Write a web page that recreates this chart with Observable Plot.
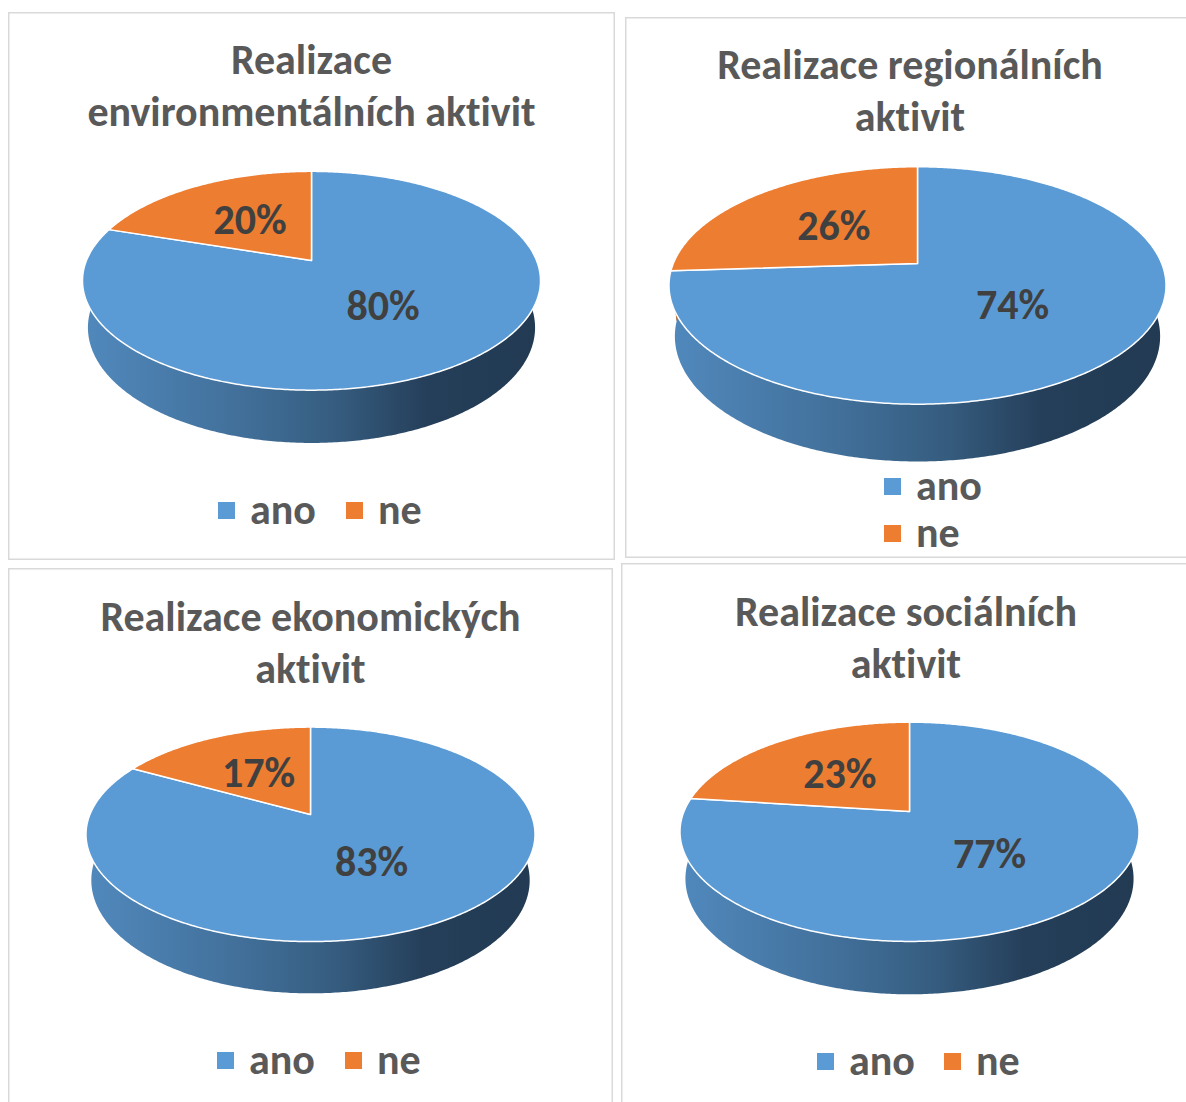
<!DOCTYPE html>
<html>
<head>
<meta charset="utf-8">
<script src="https://cdn.jsdelivr.net/npm/d3@7"></script>
<script src="https://cdn.jsdelivr.net/npm/@observablehq/plot@0.6"></script>
<style>
  html, body { margin: 0; padding: 0; background: #fff; }
  body { width: 1186px; height: 1102px; position: relative; overflow: hidden;
         font-family: Carlito, Lato, "Open Sans", sans-serif; font-variant-ligatures: none; }
  .panel { position: absolute; background: #fff; box-shadow: inset 0 0 0 1.5px #d9d9d9; }
  .panel svg { position: absolute; left: 0; top: 0; }
  .panel svg text { font-variant-ligatures: none; }
  .title { position: absolute; left: 0; width: 100%; text-align: center; color: #595959;
           font-weight: bold; font-size: 42px; line-height: 52px; white-space: nowrap; }
  .leg { position: absolute; display: flex; align-items: center; color: #595959;
         font-weight: bold; font-size: 42px; line-height: 36px; height: 36px; white-space: nowrap; }
  .sw { width: 17px; height: 17px; margin-right: 15px; }
</style>
</head>
<body>
<script>
// ---------------- data ----------------
const titles = [
  ["Realizace", "environmentálních aktivit"],
  ["Realizace regionálních", "aktivit"],
  ["Realizace ekonomických", "aktivit"],
  ["Realizace sociálních", "aktivit"]
];
const categories = ["ano", "ne"];
const anoValues = [80, 74, 83, 77];
const neValues  = [20, 26, 17, 23];

// ---------------- style / layout ----------------
const colors = ["#5b9bd5", "#ed7d31"];
const sideStops = [
  [["0%", "#5189bd"], ["35%", "#416f99"], ["55%", "#365d80"], ["75%", "#253f5a"], ["100%", "#223a52"]],
  [["0%", "#c96a22"], ["50%", "#a85518"], ["100%", "#7a3d10"]]
];
const layout = [
  { left: 8,   top: 12,  w: 607, h: 548, vx: 303, vy: 248, half: 229,   titleTop: 22,
    items: [[210, 498], [338, 498]] },
  { left: 625, top: 17,  w: 570, h: 541, vx: 292, vy: 246, half: 248.5, titleTop: 22,
    items: [[259, 469], [259, 516]] },
  { left: 8,   top: 568, w: 605, h: 545, vx: 302, vy: 246, half: 224.5, titleTop: 23,
    items: [[209, 492], [337, 492]] },
  { left: 621, top: 563, w: 570, h: 550, vx: 288, vy: 248, half: 229.5, titleTop: 23,
    items: [[196, 498], [323, 498]] }
];

// ---------------- 3D projection ----------------
const ALPHA = 28 * Math.PI / 180, DIST = 4.77, DEPTH = 0.238;
const SA = Math.sin(ALPHA), CA = Math.cos(ALPHA);
function proj(theta, r, v) {
  const X = r * Math.cos(theta), Z = r * Math.sin(theta);
  const zc = DIST + Z * CA - v * SA;
  return [X / zc, (Z * SA + v * CA) / zc];
}
let hwMax = 0;
for (let t = 0; t < 2 * Math.PI; t += 0.0005) hwMax = Math.max(hwMax, proj(t, 1, 0)[0]);

function arc(a, b, v, K) {
  const n = Math.max(2, Math.ceil(Math.abs(b - a) / 0.01));
  const pts = [];
  for (let k = 0; k <= n; k++) {
    const t = a + (b - a) * k / n;
    const p = proj(t, 1, v);
    pts.push({ x: p[0] * K, y: p[1] * K });
  }
  return pts;
}

layout.forEach((L, i) => {
  const panel = document.createElement("div");
  panel.className = "panel";
  Object.assign(panel.style, { left: L.left + "px", top: L.top + "px", width: L.w + "px", height: L.h + "px" });
  document.body.appendChild(panel);

  const K = L.half / hwMax;
  const values = [anoValues[i], neValues[i]];
  const total = d3.sum(values);
  let cum = 0;
  const slices = values.map((v, j) => {
    const s = cum / total, e = (cum + v) / total;
    cum += v;
    return { j, value: v, start: Math.PI / 2 - 2 * Math.PI * s, end: Math.PI / 2 - 2 * Math.PI * e };
  });

  const marks = [];
  // visible sides (front half of the cylinder)
  slices.forEach(sl => {
    for (const k of [-2, -1, 0, 1]) {
      const lo = Math.max(sl.end, -Math.PI + 2 * Math.PI * k);
      const hi = Math.min(sl.start, 2 * Math.PI * k);
      if (hi - lo > 1e-4) {
        const pts = [...arc(lo, hi, 0, K), ...arc(hi, lo, -DEPTH, K)];
        marks.push(Plot.line(pts, { x: "x", y: "y", fill: `url(#side-${i}-${sl.j})`, stroke: "none" }));
      }
    }
  });
  // top faces
  slices.forEach(sl => {
    const pts = [{ x: 0, y: 0 }, ...arc(sl.start, sl.end, 0, K), { x: 0, y: 0 }];
    marks.push(Plot.line(pts, { x: "x", y: "y", fill: colors[sl.j], stroke: "#ffffff",
      strokeWidth: 1.5, strokeLinejoin: "round" }));
  });
  // labels
  const labels = slices.map(sl => {
    const mid = (sl.start + sl.end) / 2;
    const p = proj(mid, 0.5, 0);
    return { x: p[0] * K, y: p[1] * K, text: sl.value + "%" };
  });
  marks.push(Plot.text(labels, { x: "x", y: "y", text: "text", fontSize: 42, fontWeight: "bold",
    fill: "#404040", fontFamily: "Carlito, Lato, 'Open Sans', sans-serif" }));

  const chart = Plot.plot({
    width: L.w, height: L.h, margin: 0,
    x: { domain: [-L.vx, L.w - L.vx], range: [0, L.w], axis: null },
    y: { domain: [L.vy - L.h, L.vy], range: [L.h, 0], axis: null },
    style: { background: "transparent", overflow: "visible" },
    marks
  });
  const defs = d3.select(chart).insert("defs", ":first-child");
  const xs = chart.scale("x");
  [0, 1].forEach(j => {
    const g = defs.append("linearGradient").attr("id", `side-${i}-${j}`)
      .attr("gradientUnits", "userSpaceOnUse")
      .attr("x1", xs.apply(-L.half)).attr("x2", xs.apply(L.half)).attr("y1", 0).attr("y2", 0);
    sideStops[j].forEach(([o, c]) => g.append("stop").attr("offset", o).attr("stop-color", c));
  });
  panel.appendChild(chart);

  // title
  titles[i].forEach((line, li) => {
    const t = document.createElement("div");
    t.className = "title";
    t.style.top = (L.titleTop + li * 52) + "px";
    t.textContent = line;
    panel.appendChild(t);
  });

  // legend
  categories.forEach((c, j) => {
    const it = document.createElement("div");
    it.className = "leg";
    it.style.left = L.items[j][0] + "px";
    it.style.top = (L.items[j][1] - 18) + "px";
    const sw = document.createElement("div");
    sw.className = "sw";
    sw.style.background = colors[j];
    const tx = document.createElement("span");
    tx.textContent = c;
    it.appendChild(sw); it.appendChild(tx);
    panel.appendChild(it);
  });
});
</script>
</body>
</html>
